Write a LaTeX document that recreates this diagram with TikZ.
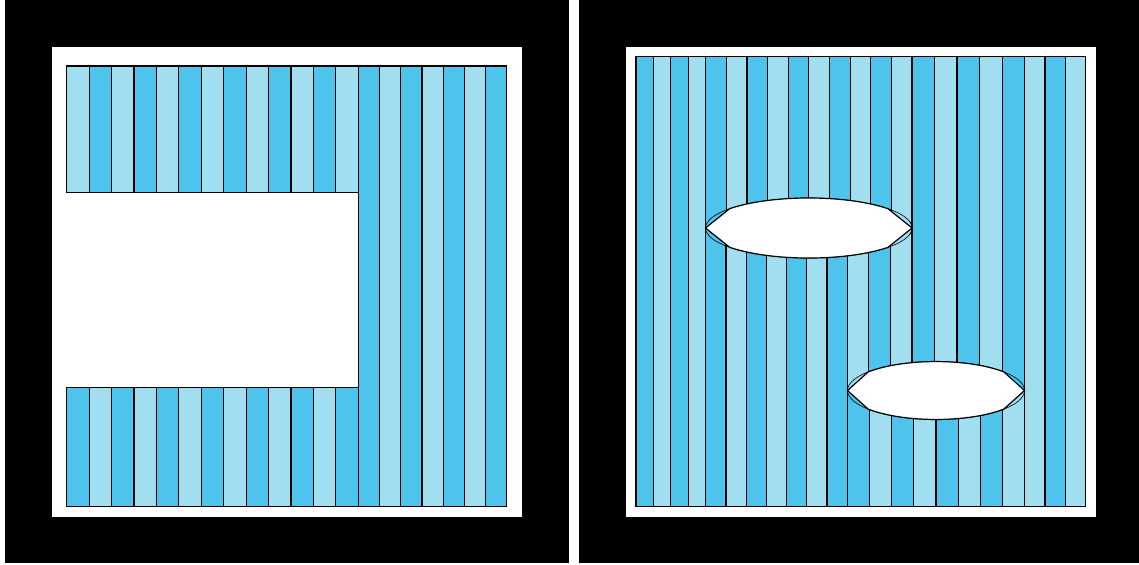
\documentclass[tikz,border=0pt]{standalone}
\definecolor{skyblue}{HTML}{4EC4EC}
\definecolor{paleblue}{HTML}{A0DEF0}
\newcommand{\stripband}[6]{%
  \foreach \i in {1,...,#5}{%
    \pgfmathtruncatemacro{\k}{mod(\i-1+#6,2)}%
    \ifnum\k=0 \def\bandcol{paleblue}\else\def\bandcol{skyblue}\fi
    \draw[strip, fill=\bandcol] ({#1+(\i-1)*#3},#2) rectangle ++(#3,#4);
  }%
}
\begin{document}
\begin{tikzpicture}[
  x=0.5pt, y=-0.5pt,
  strip/.style={draw=black, line width=0.6pt},
  frame/.style={fill=black},
  board/.style={fill=white},
  hole/.style={fill=white, draw=black, line width=0.6pt},
  rim/.style={draw=black, line width=0.3pt}
]
\useasboundingbox (0,0) rectangle (1139,564);
\fill[frame] (5,0) rectangle (568.6,563);
\fill[board] (52,47) rectangle (522,517);
\stripband{66.7}{66}{22.43}{126.3}{13}{0}
\stripband{66.7}{387.3}{22.43}{119.4}{13}{1}
\stripband{358.3}{66}{21.2}{440.7}{7}{1}
\fill[frame] (579,0) rectangle (1139,563);
\fill[board] (626,47) rectangle (1096,517);
\stripband{636}{56.5}{17.43}{450}{4}{1}
\stripband{705.7}{56.5}{20.63}{171.5}{10}{1}
\stripband{705.7}{228}{20.23}{278.5}{7}{1}
\stripband{847.3}{228}{21.57}{162.5}{3}{0}
\stripband{912}{56.5}{22.54}{334}{5}{1}
\stripband{847.3}{390.5}{22.18}{116}{8}{1}
\stripband{1024.7}{56.5}{20.33}{450}{3}{0}
\draw[rim] (808.8,228) ellipse [x radius=103.3, y radius=30];
\draw[hole] (705.5,228) -- (729.7,247.3)
  arc[start angle=140, end angle=40, x radius=103.3, y radius=30]
  -- (912.1,228) -- (887.9,208.7)
  arc[start angle=-40, end angle=-140, x radius=103.3, y radius=30] -- cycle;
\draw[rim] (936,390.5) ellipse [x radius=88.5, y radius=29];
\draw[hole] (847.5,390.5) -- (868.2,409.1)
  arc[start angle=140, end angle=40, x radius=88.5, y radius=29]
  -- (1024.5,390.5) -- (1003.8,371.9)
  arc[start angle=-40, end angle=-140, x radius=88.5, y radius=29] -- cycle;
\end{tikzpicture}
\end{document}
